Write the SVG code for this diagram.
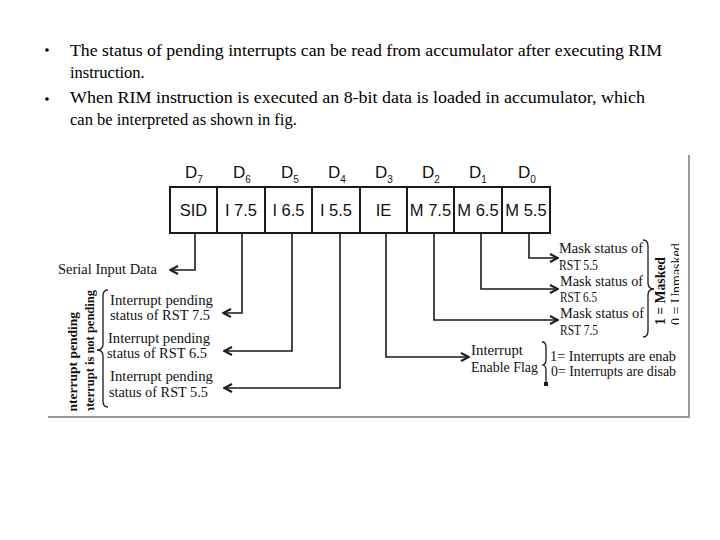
<svg xmlns="http://www.w3.org/2000/svg" width="720" height="540" viewBox="0 0 720 540">
<style>
.top{font-family:"Liberation Serif","Times New Roman",serif;font-size:16.5px;fill:#000}
.lbl{font-family:"Liberation Serif","Times New Roman",serif;font-size:14.5px;fill:#111}
.vt{font-family:"Liberation Serif","Times New Roman",serif;font-size:14px;font-weight:bold;fill:#111}
.cell{font-family:"Liberation Sans",Arial,sans-serif;font-size:16.5px;fill:#111;text-anchor:middle}
.dl{font-family:"Liberation Sans",Arial,sans-serif;font-size:17px;fill:#111}
.sub{font-size:10px}
.ln{fill:none;stroke:#1a1a1a;stroke-width:1.6}
.br{fill:none;stroke:#1a1a1a;stroke-width:1.3}
.frame{fill:none;stroke:#9a9a9a;stroke-width:2}
</style>
<defs>
<marker id="ah" viewBox="0 0 10 10" refX="9" refY="5" markerWidth="10" markerHeight="10" markerUnits="userSpaceOnUse" orient="auto">
<path d="M1,1 L9,5 L1,9" fill="none" stroke="#1a1a1a" stroke-width="2"/>
</marker>
<clipPath id="clipL"><rect x="0" y="0" width="720" height="411"/></clipPath>
<clipPath id="clipR"><rect x="0" y="0" width="679" height="540"/></clipPath>
</defs>
<rect width="720" height="540" fill="#fff"/>

<g id="bullets">
<circle cx="47" cy="50" r="1.8" fill="#000"/>
<text class="top" x="70" y="56" textLength="592" lengthAdjust="spacingAndGlyphs">The status of pending interrupts can be read from accumulator after executing RIM</text>
<text class="top" x="70" y="78">instruction.</text>
<circle cx="47" cy="99" r="1.8" fill="#000"/>
<text class="top" x="70" y="103" textLength="575" lengthAdjust="spacingAndGlyphs">When RIM instruction is executed an 8-bit data is loaded in accumulator, which</text>
<text class="top" x="70" y="125">can be interpreted as shown in fig.</text>
</g>

<g id="frame">
<path class="frame" d="M689,155 V417 H48"/>
</g>

<g id="register">
<rect x="170" y="187" width="380" height="46" fill="#fff" stroke="#1a1a1a" stroke-width="2"/>
<path d="M217,187 V233 M265,187 V233 M312,187 V233 M360,187 V233 M407,187 V233 M454,187 V233 M502,187 V233" stroke="#1a1a1a" stroke-width="2"/>
<g id="bit7"><text class="dl" x="185" y="178">D<tspan class="sub" dy="5">7</tspan></text><text class="cell" x="193.5" y="216">SID</text></g>
<g id="bit6"><text class="dl" x="233" y="178">D<tspan class="sub" dy="5">6</tspan></text><text class="cell" x="241" y="216">I 7.5</text></g>
<g id="bit5"><text class="dl" x="281" y="178">D<tspan class="sub" dy="5">5</tspan></text><text class="cell" x="288.5" y="216">I 6.5</text></g>
<g id="bit4"><text class="dl" x="328" y="178">D<tspan class="sub" dy="5">4</tspan></text><text class="cell" x="336" y="216">I 5.5</text></g>
<g id="bit3"><text class="dl" x="375" y="178">D<tspan class="sub" dy="5">3</tspan></text><text class="cell" x="383.5" y="216">IE</text></g>
<g id="bit2"><text class="dl" x="422" y="178">D<tspan class="sub" dy="5">2</tspan></text><text class="cell" x="430.5" y="216">M 7.5</text></g>
<g id="bit1"><text class="dl" x="469" y="178">D<tspan class="sub" dy="5">1</tspan></text><text class="cell" x="478" y="216">M 6.5</text></g>
<g id="bit0"><text class="dl" x="518" y="178">D<tspan class="sub" dy="5">0</tspan></text><text class="cell" x="526" y="216">M 5.5</text></g>
</g>

<g id="connectors">
<path class="ln" marker-end="url(#ah)" d="M195,233 V270 H170"/>
<path class="ln" marker-end="url(#ah)" d="M242,233 V313 H223"/>
<path class="ln" marker-end="url(#ah)" d="M292,233 V351 H224"/>
<path class="ln" marker-end="url(#ah)" d="M340,233 V388 H224"/>
<path class="ln" marker-end="url(#ah)" d="M386,233 V357 H469"/>
<path class="ln" marker-end="url(#ah)" d="M434,233 V320 H558"/>
<path class="ln" marker-end="url(#ah)" d="M481,233 V289 H558"/>
<path class="ln" marker-end="url(#ah)" d="M529,233 V258 H558"/>
</g>

<g id="serial">
<text class="lbl" x="58" y="274" textLength="99" lengthAdjust="spacingAndGlyphs">Serial Input Data</text>
</g>

<g id="pending">
<text class="lbl" x="110" y="305" textLength="103" lengthAdjust="spacingAndGlyphs">Interrupt pending</text>
<text class="lbl" x="110" y="320" textLength="100" lengthAdjust="spacingAndGlyphs">status of RST 7.5</text>
<text class="lbl" x="108" y="343" textLength="102" lengthAdjust="spacingAndGlyphs">Interrupt pending</text>
<text class="lbl" x="107" y="358" textLength="100" lengthAdjust="spacingAndGlyphs">status of RST 6.5</text>
<text class="lbl" x="110" y="381" textLength="103" lengthAdjust="spacingAndGlyphs">Interrupt pending</text>
<text class="lbl" x="109" y="397" textLength="99" lengthAdjust="spacingAndGlyphs">status of RST 5.5</text>
<path class="br" d="M108,290 q-5,0 -5,6 V344 q0,6 -6,6 q6,0 6,6 V401 q0,6 5,6"/>
<g clip-path="url(#clipL)">
<text class="vt" transform="translate(77,312) rotate(-90)" text-anchor="end" style="font-size:13.5px">Interrupt pending</text>
<text class="vt" transform="translate(93.5,290) rotate(-90)" text-anchor="end" style="font-size:12.5px">Interrupt is not pending</text>
</g>
</g>

<g id="mask">
<text class="lbl" x="559" y="253" textLength="84" lengthAdjust="spacingAndGlyphs">Mask status of</text>
<text class="lbl" x="559" y="270" textLength="39" lengthAdjust="spacingAndGlyphs">RST 5.5</text>
<text class="lbl" x="560" y="286" textLength="83" lengthAdjust="spacingAndGlyphs">Mask status of</text>
<text class="lbl" x="560" y="302" textLength="37" lengthAdjust="spacingAndGlyphs">RST 6.5</text>
<text class="lbl" x="560" y="318" textLength="84" lengthAdjust="spacingAndGlyphs">Mask status of</text>
<text class="lbl" x="560" y="335" textLength="38" lengthAdjust="spacingAndGlyphs">RST 7.5</text>
<path class="br" d="M643,240 q5,0 5,6 V283 q0,6 6,6 q-6,0 -6,6 V331 q0,6 -5,6"/>
<text class="vt" transform="translate(665,325) rotate(-90)" textLength="68" lengthAdjust="spacingAndGlyphs">1 = Masked</text>
<g clip-path="url(#clipR)">
<text class="vt" transform="translate(681,325) rotate(-90)" style="font-weight:normal">0 = Unmasked</text>
</g>
</g>

<g id="ieflag">
<text class="lbl" x="471" y="355" textLength="52" lengthAdjust="spacingAndGlyphs">Interrupt</text>
<text class="lbl" x="471" y="372" textLength="67" lengthAdjust="spacingAndGlyphs">Enable Flag</text>
<path class="br" d="M542,342 q4,0 4,5 V360 q0,4 -3,5 q3,1 3,5 V380 q0,4 -1,5"/>
<rect x="544" y="382" width="4" height="4" fill="#1a1a1a"/>
<text class="lbl" x="550" y="361" textLength="126" lengthAdjust="spacingAndGlyphs">1= Interrupts are enab</text>
<text class="lbl" x="551" y="376" textLength="125" lengthAdjust="spacingAndGlyphs">0= Interrupts are disab</text>
</g>
</svg>
